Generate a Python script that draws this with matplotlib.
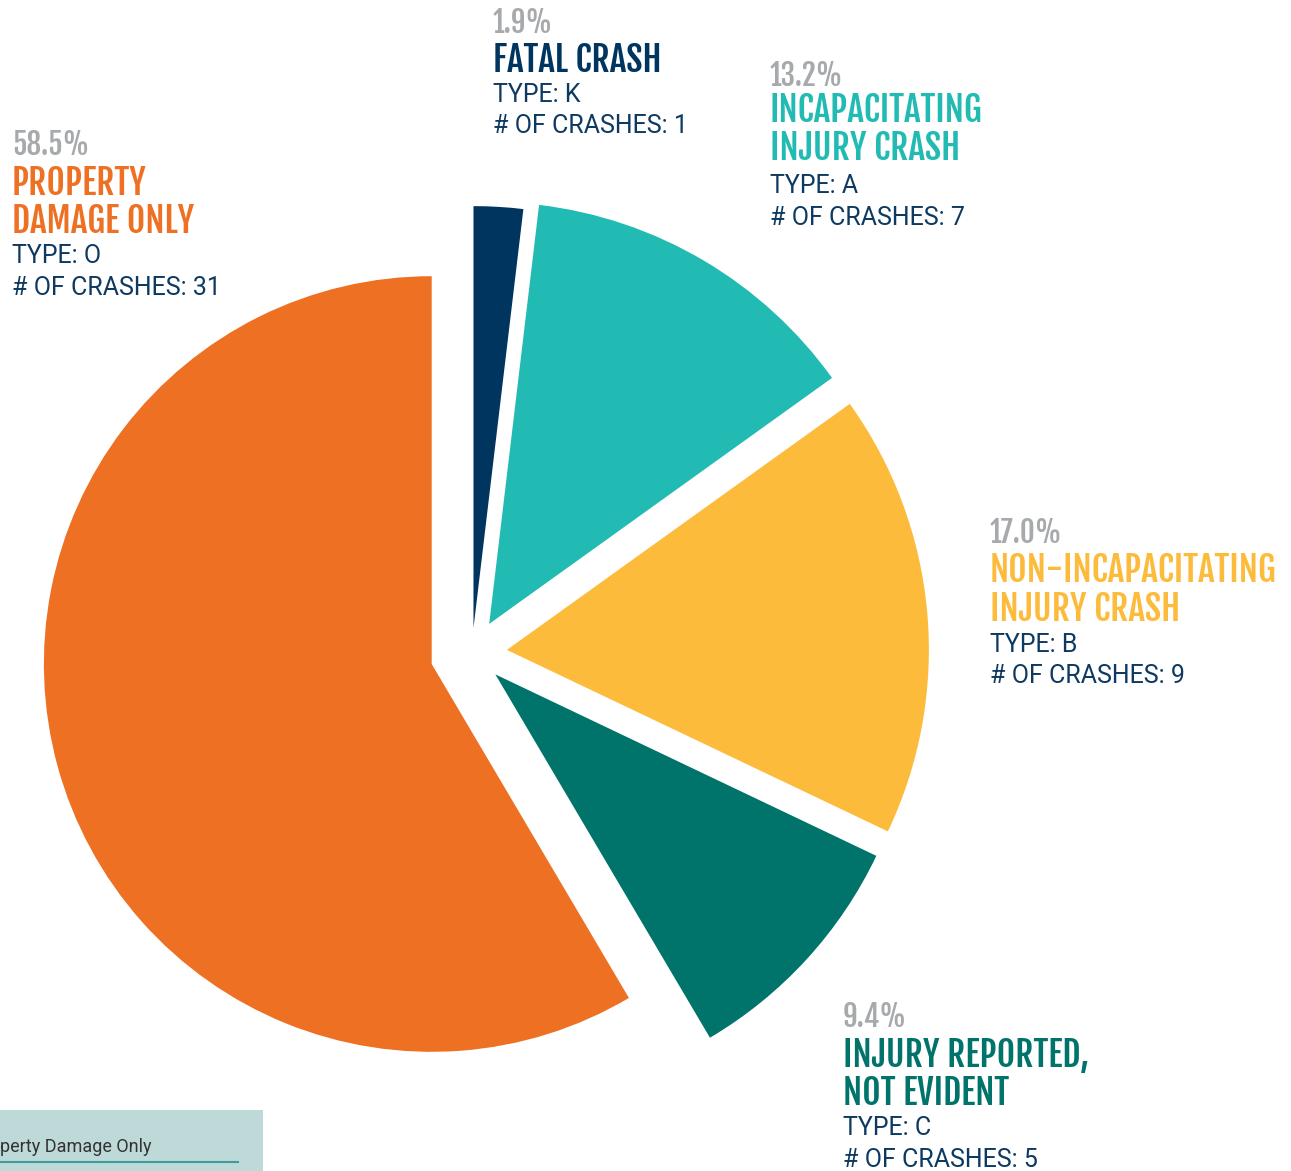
import matplotlib
matplotlib.use("Agg")
import matplotlib.pyplot as plt
from matplotlib import font_manager as fm
from matplotlib.patches import Rectangle
from matplotlib.lines import Line2D

# ---- data ----
types = ["K", "A", "B", "C", "O"]
names = ["FATAL CRASH", "INCAPACITATING\nINJURY CRASH", "NON-INCAPACITATING\nINJURY CRASH",
         "INJURY REPORTED,\nNOT EVIDENT", "PROPERTY\nDAMAGE ONLY"]
crashes = [1, 7, 9, 5, 31]

# ---- style ----
colors = ["#00355F", "#22BBB3", "#FDBB3B", "#00736B", "#EE7023"]
explode = [0.059, 0.080, 0.083, 0.075, 0.099]
radii = [1.0, 1.0, 1.0, 1.0, 0.919]
GREY = "#A7AAAC"
NAVY = "#0E3A62"

avail = {f.name for f in fm.fontManager.ttflist}
HEAD = dict(family="DejaVu Sans", weight="bold")
head_size, pct_size = 25, 21
for cand, hs, ps in [("Fjalla One", 25.5, 21), ("Roboto Condensed", 25, 21), ("Oswald", 22.5, 19)]:
    if cand in avail:
        HEAD = dict(family=cand, weight="bold")
        head_size, pct_size = hs, ps
        break
BODY = dict(family="Roboto" if "Roboto" in avail else "DejaVu Sans")

W, H = 1291, 1171
fig = plt.figure(figsize=(W / 100, H / 100), dpi=100)
ax = fig.add_axes([0, 0, 1, 1])

wedges, _ = ax.pie(crashes, colors=colors, explode=explode, startangle=90,
                   counterclock=False, radius=1.0, wedgeprops=dict(linewidth=0))
for w, r in zip(wedges, radii):
    w.set_radius(r)
ax.set_xlim(-472 / 422, (W - 472) / 422)
ax.set_ylim(-(H - 653) / 422, 653 / 422)
ax.set_aspect("equal")
ax.axis("off")

total = sum(crashes)
pcts = [f"{100 * c / total:.1f}%" for c in crashes]

def P(x, y):
    return (x / W, 1 - y / H)

# label blocks: x, baselines (pct, head lines..., type, count)
blocks = {
    0: (493, 33, [72], 102, 133),
    1: (770, 86, [122, 160], 193, 225),
    2: (990, 543, [582, 621], 652, 683),
    3: (843, 1027, [1067, 1105], 1135, 1167),
    4: (12, 155, [195, 233], 263, 295),
}
for i, (x, yp, yh, yt, yc) in blocks.items():
    fig.text(*P(x, yp), pcts[i], color=GREY, fontsize=pct_size, va="baseline", ha="left", **HEAD)
    for line, y in zip(names[i].split("\n"), yh):
        fig.text(*P(x, y), line, color=colors[i], fontsize=head_size, va="baseline", ha="left", **HEAD)
    fig.text(*P(x, yt), f"TYPE: {types[i]}", color=NAVY, fontsize=18, va="baseline", ha="left", **BODY)
    fig.text(*P(x, yc), f"# OF CRASHES: {crashes[i]}", color=NAVY, fontsize=18, va="baseline", ha="left", **BODY)

# cropped legend box at bottom-left
fig.patches.append(Rectangle(P(0, H), 263 / W, 61 / H, transform=fig.transFigure,
                             facecolor="#BDD9D8", edgecolor="none", zorder=0))
fig.lines.append(Line2D([0, 238 / W], [1 - 1162 / H] * 2, transform=fig.transFigure,
                        color="#3E9D98", linewidth=1.5))
fig.text(*P(151, 1152), "perty Damage Only", color="#333333", fontsize=13,
         va="baseline", ha="right", **BODY)

fig.savefig("out.png", dpi=100)
